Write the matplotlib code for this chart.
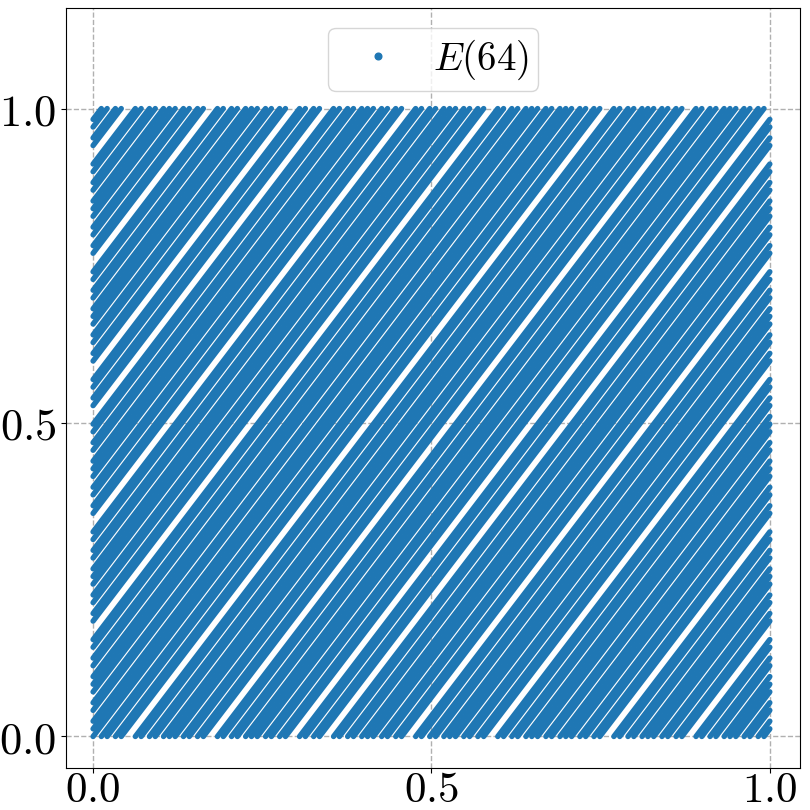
import matplotlib
matplotlib.use("Agg")
import matplotlib.pyplot as plt
from matplotlib.lines import Line2D

# Heights (at x = 0) where each of the 64 line passes enters the unit square;
# every pass rises with the slope below and wraps round from y = 1 to y = 0.
offsets = [
    0.00000, 0.41421, 0.82843, 0.24264, 0.65685, 0.07107, 0.48528, 0.89949,
    0.31371, 0.72792, 0.14214, 0.55635, 0.97056, 0.38478, 0.79899, 0.21320,
    0.62742, 0.04163, 0.45584, 0.87006, 0.28427, 0.69848, 0.11270, 0.52691,
    0.94113, 0.35534, 0.76955, 0.18377, 0.59798, 0.01219, 0.42641, 0.84062,
    0.25483, 0.66905, 0.08326, 0.49747, 0.91169, 0.32590, 0.74011, 0.15433,
    0.56854, 0.98276, 0.39697, 0.81118, 0.22540, 0.63961, 0.05382, 0.46804,
    0.88225, 0.29646, 0.71068, 0.12489, 0.53910, 0.95332, 0.36753, 0.78175,
    0.19596, 0.61017, 0.02439, 0.43860, 0.85281, 0.26703, 0.68124, 0.09545,
]
slope = 1.41421
ticks = [0.0, 0.5, 1.0]
tick_labels = ["$0.0$", "$0.5$", "$1.0$"]
series_label = "$E(64)$"

plt.rcParams["font.family"] = "serif"
plt.rcParams["mathtext.fontset"] = "cm"

color = "#1f77b4"
lw = 3.9
fig = plt.figure(figsize=(8.1, 8.1), dpi=100)
ax = fig.add_axes([0.0815, 0.052, 0.9065, 0.938])

for c in offsets:
    y_end = c + slope
    # x positions where the pass reaches y = 1, 2 and wraps
    breaks = [0.0]
    level = 1
    while level < y_end:
        breaks.append((level - c) / slope)
        level += 1
    breaks.append(1.0)
    for i in range(len(breaks) - 1):
        xa, xb = breaks[i], breaks[i + 1]
        ya = c + slope * xa - i
        yb = c + slope * xb - i
        ax.plot([xa, xb], [ya, yb], color=color, lw=lw,
                solid_capstyle="round", zorder=3)

ax.set_xlim(-0.04, 1.045)
ax.set_ylim(-0.05, 1.16)
ax.set_xticks(ticks)
ax.set_yticks(ticks)
ax.set_xticklabels(tick_labels, fontsize=31)
ax.set_yticklabels(tick_labels, fontsize=32)
ax.tick_params(axis="x", pad=-3)
ax.grid(True, linestyle="--", color="#b0b0b0", lw=1.0, zorder=0)
ax.set_axisbelow(True)

handle = Line2D([], [], linestyle="none", marker="o", markersize=4.8,
                color=color)
ax.legend([handle], [series_label], loc="upper center", fontsize=28,
          handlelength=2.1, handletextpad=0.35, borderpad=0.25)

fig.savefig("out.png", dpi=100)
